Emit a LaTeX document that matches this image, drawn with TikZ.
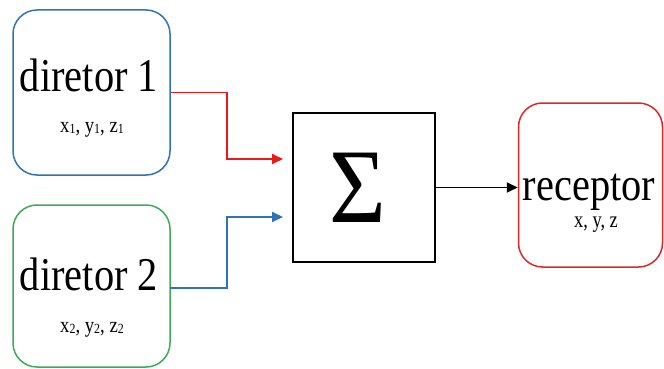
\documentclass[tikz,border=0pt]{standalone}
\usepackage{fontspec}
\setmainfont{Liberation Serif}
\usetikzlibrary{arrows.meta}
\definecolor{dblue}{RGB}{46,117,182}
\definecolor{dgreen}{RGB}{60,170,90}
\definecolor{dred}{RGB}{220,40,40}
\definecolor{ared}{RGB}{235,25,25}
\newcommand{\bigtxt}[1]{\scalebox{0.86}[1]{\fontsize{47}{47}\selectfont #1}}
\newcommand{\smtxt}[1]{\scalebox{0.85}[1]{\fontsize{22}{22}\selectfont #1}}
\newcommand{\sbs}[1]{\raisebox{-1.5pt}{\fontsize{14}{14}\selectfont #1}}
\begin{document}
\begin{tikzpicture}[x=1pt,y=-1pt,
  boxst/.style={draw,line width=1.5pt,rounded corners=24pt,inner sep=0pt},
  conn/.style={line width=1.9pt,-{Triangle[length=11pt,width=10pt]}},
  txt/.style={anchor=base,inner sep=0pt}]
\useasboundingbox (0,0) rectangle (664,369);
\fill[white] (0,0) rectangle (664,369);
% boxes
\node[boxst,draw=dblue,minimum width=157pt,minimum height=165pt] (d1) at (91.5,92.5) {};
\node[boxst,draw=dgreen,minimum width=157pt,minimum height=162pt] (d2) at (91.5,286) {};
\node[boxst,draw=dred,minimum width=144pt,minimum height=164pt] (rec) at (590.5,185) {};
\node[draw,line width=2pt,minimum width=142pt,minimum height=149pt,inner sep=0pt] (sig) at (364,187.5) {};
% texts
\node[txt] (t1) at (89,92) {\bigtxt{diretor 1}};
\node[txt] (s1) at (92,132) {\smtxt{x\sbs{1}, y\sbs{1}, z\sbs{1}}};
\node[txt] (t2) at (89,290) {\bigtxt{diretor 2}};
\node[txt] (s2) at (92,332) {\smtxt{x\sbs{2}, y\sbs{2}, z\sbs{2}}};
\node[txt] (t3) at (589,200) {\bigtxt{receptor}};
\node[txt] (s3) at (596,227) {\scalebox{0.8}[1]{\fontsize{23}{23}\selectfont x, y, z}};
\node[txt] (sg) at (358,222) {\scalebox{0.92}[1]{\fontsize{106}{106}\selectfont Σ}};
% connectors
\coordinate (a1) at (283,159);
\coordinate (a2) at (283,217);
\draw[conn,color=ared] (d1.east) -- (227,92.5) -- (227,159) -- (a1);
\draw[conn,color=dblue] (170,288) -- (227,288) -- (227,217) -- (a2);
\draw[conn] (sig.east) -- (sig.east -| rec.west);
\end{tikzpicture}
\end{document}
